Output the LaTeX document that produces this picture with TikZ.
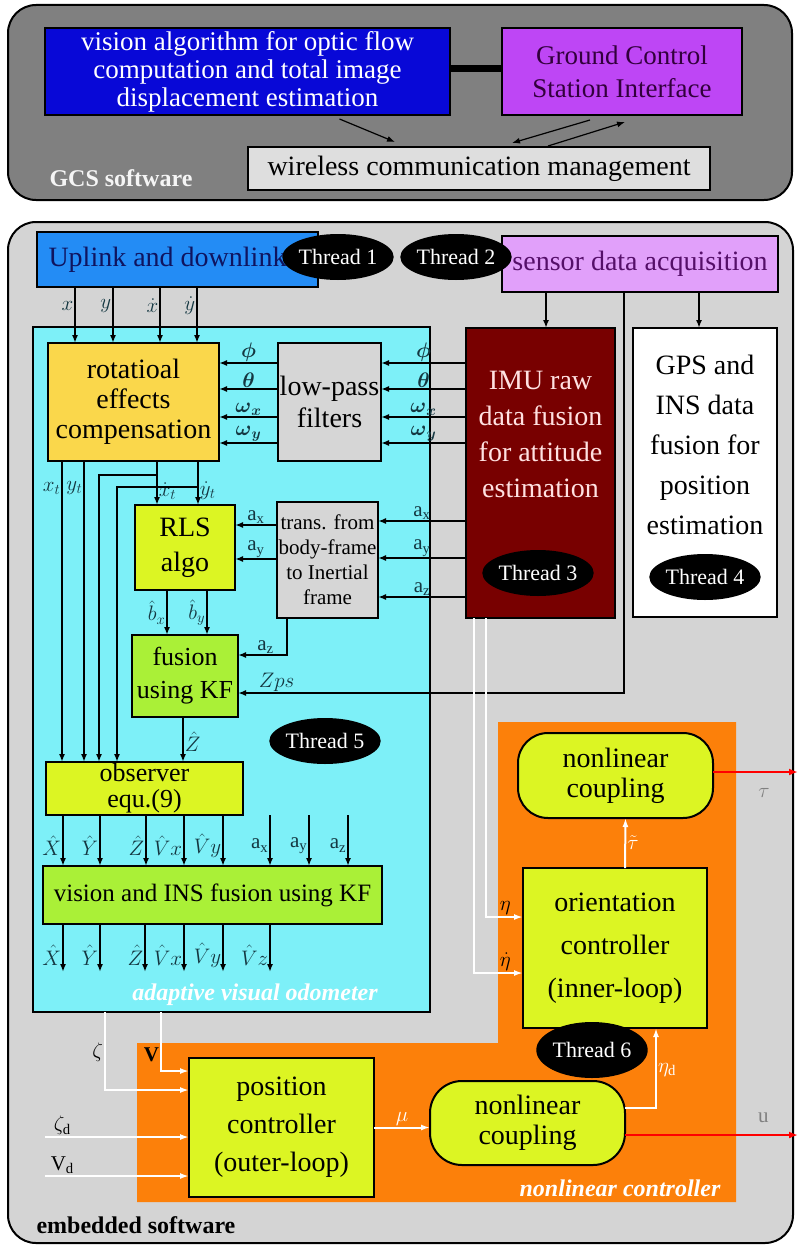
\RequirePackage{fix-cm}
\documentclass[tikz,border=0pt]{standalone}
\usepackage{amsmath}
\usepackage{fontspec}
\setmainfont{Liberation Serif}
\usepackage{xcolor}
\usepackage{tikz}
\usetikzlibrary{arrows.meta,positioning,shapes.geometric,calc}

\definecolor{gcsgray}{RGB}{128,128,128}
\definecolor{visblue}{RGB}{8,8,215}
\definecolor{gcspurple}{RGB}{190,70,245}
\definecolor{gcstext}{RGB}{50,0,60}
\definecolor{wirelessgray}{RGB}{222,222,222}
\definecolor{embgray}{RGB}{212,212,212}
\definecolor{linkblue}{RGB}{35,140,245}
\definecolor{linktext}{RGB}{15,20,95}
\definecolor{sensorviolet}{RGB}{225,160,250}
\definecolor{sensortext}{RGB}{85,15,105}
\definecolor{odocyan}{RGB}{125,240,248}
\definecolor{rotgold}{RGB}{250,215,75}
\definecolor{filtgray}{RGB}{214,214,214}
\definecolor{imured}{RGB}{120,0,0}
\definecolor{imutext}{RGB}{255,225,225}
\definecolor{limey}{RGB}{220,245,35}
\definecolor{limeg}{RGB}{170,240,55}
\definecolor{ctrlorange}{RGB}{252,128,10}
\definecolor{labcol}{RGB}{20,55,65}

\begin{document}
\begin{tikzpicture}[x=1pt, y=-1pt,
    panel/.style={draw, line width=2pt, rounded corners=28pt, inner sep=0pt},
    box/.style={draw, line width=2pt, align=center, inner sep=0pt, outer sep=0pt, font=\fontsize{28}{30}\selectfont},
    wh/.style 2 args={minimum width=#1, minimum height=#2},
    big/.style={align=center, inner sep=0pt, font=\fontsize{28}{36}\selectfont},
    thr/.style={ellipse, fill=black, text=white, inner sep=0pt, minimum width=98pt, minimum height=46pt, font=\fontsize{22}{24}\selectfont},
    arr/.style={-{Latex[length=8pt,width=6pt]}, line width=1.6pt},
    warr/.style={draw=white, line width=2pt, -{Latex[length=9pt,width=6pt]}},
    rarr/.style={draw=red, line width=2pt, -{Latex[length=9pt,width=7pt]}},
    lab/.style={font=\fontsize{21}{23}\selectfont, text=labcol, inner sep=1pt}
  ]
    \useasboundingbox (0,0) rectangle (798,1247);

    % GCS software
    \node[panel, fill=gcsgray, wh={784}{195}] (gcs) at (400,102.5) {};
    \node[box, fill=visblue, text=white, wh={405}{87}, font=\fontsize{27}{28}\selectfont] (vision) at (247.5,71.5) {vision algorithm for optic flow\\computation and total image\\displacement estimation};
    \node[box, fill=gcspurple, text=gcstext, wh={240}{87}, font=\fontsize{27}{33}\selectfont] (gcsi) at (622,71.5) {Ground Control\\Station Interface};
    \node[box, fill=wirelessgray, wh={462}{43}] (wireless) at (479,168.5) {wireless communication management};
    \node[font=\bfseries\fontsize{24}{26}\selectfont, text=white!92!gray, anchor=west] (gcslab) at (46,178) {GCS software};

    % embedded software
    \node[panel, fill=embgray, wh={785}{1021}] (emb) at (400.5,732.5) {};
    \node[box, fill=odocyan, wh={397}{685}] (odo) at (231.5,669.5) {};
    \fill[ctrlorange] (498,722) -- (736,722) -- (736,1202) -- (137,1202) -- (137,1043) -- (498,1043) -- cycle;

    \node[box, fill=linkblue, text=linktext, wh={281}{55}] (uplink) at (177.5,259.5) {Uplink and downlink\hspace{20pt}};
    \node[thr] (th1) at (338,257) {Thread 1};
    \node[box, fill=sensorviolet, text=sensortext, wh={276}{56}] (sensor) at (640,264) {sensor data acquisition};
    \node[thr] (th2) at (456,257) {Thread 2};

    \node[box, fill=rotgold, wh={171}{118}] (rot) at (133.5,402) {rotatioal\\effects\\compensation};
    \node[box, fill=filtgray, wh={103}{118}, font=\fontsize{28}{32}\selectfont] (lpf) at (329.5,402) {low-pass\\filters};
    \node[box, fill=imured, wh={149}{290}] (imu) at (540.5,473) {};
    \node[big, text=imutext, below=43pt of imu.north] (imutxt) {IMU raw\\data fusion\\for attitude\\estimation};
    \node[thr] (th3) at (538,573) {Thread 3};
    \node[box, fill=white, wh={144}{289}] (gps) at (705,472.5) {};
    \node[big, font=\fontsize{28}{40}\selectfont, below=27pt of gps.north] (gpstxt) {GPS and\\INS data\\fusion for\\position\\estimation};
    \node[thr] (th4) at (705,577) {Thread 4};

    \node[box, fill=filtgray, wh={101}{116}, font=\fontsize{21}{25}\selectfont] (trans) at (327.5,560) {trans. from\\body-frame\\to Inertial\\frame};
    \node[box, fill=limey, wh={100}{85}, font=\fontsize{28}{35}\selectfont] (rls) at (185,547.5) {RLS\\algo};
    \node[box, fill=limeg, wh={106}{82}, font=\fontsize{26}{33}\selectfont] (fus) at (185,676) {fusion\\using KF};
    \node[thr] (th5) at (325,741) {Thread 5};
    \node[box, fill=limey, wh={197}{53}, font=\fontsize{26}{26}\selectfont] (obs) at (144.5,788.5) {observer\\equ.(9)};
    \node[box, fill=limeg, wh={339}{58}, font=\fontsize{25}{28}\selectfont] (vins) at (212.5,895) {vision and INS fusion using KF};
    \node[font=\bfseries\itshape\fontsize{24}{26}\selectfont, text=white] (odolab) at (255,995) {adaptive visual odometer};

    % nonlinear controller
    \node[box, fill=limey, rounded corners=30pt, wh={195}{85}] (ucpl) at (615.5,775.5) {nonlinear\\coupling};
    \node[box, fill=limey, wh={184}{160}, font=\fontsize{28}{43}\selectfont] (orient) at (615,948) {orientation\\controller\\(inner-loop)};
    \node[box, fill=limey, wh={185}{139}, font=\fontsize{28}{38}\selectfont] (pos) at (281.5,1127.5) {position\\controller\\(outer-loop)};
    \node[box, fill=limey, rounded corners=32pt, wh={195}{84}] (lcpl) at (527.5,1123) {nonlinear\\coupling};
    \node[thr, minimum width=104pt, minimum height=56pt] (th6) at (592,1050) {Thread 6};
    \node[font=\bfseries\itshape\fontsize{24}{26}\selectfont, text=white] (ctrllab) at (620,1188) {nonlinear controller};
    \node[font=\bfseries\fontsize{24}{26}\selectfont, anchor=west] (emblab) at (33,1225) {embedded software};

    % GCS links
    \draw[line width=7pt] ([yshift=3pt]vision.east) -- ([yshift=3pt]gcsi.west);
    \draw[arr, line width=1.2pt] ([xshift=92pt,yshift=-4pt]vision.south) -- ([xshift=-84pt,yshift=5pt]wireless.north);
    \draw[arr, line width=1.2pt] ([xshift=-32pt,yshift=-5pt]gcsi.south) -- ([xshift=33pt,yshift=4pt]wireless.north);
    \draw[arr, line width=1.2pt] ([xshift=69pt,yshift=1pt]wireless.north) -- ([xshift=3pt,yshift=-7pt]gcsi.south);

    % uplink to rotational compensation
    \foreach \dx/\sym in {-102.5/x, -64.5/y, -17.5/\dot{x}, 19.5/\dot{y}}
      \draw[arr] ([xshift=\dx pt]uplink.south) coordinate (a) -- (a |- rot.north) node[lab, left, pos=0.34] {$\sym$};

    % filters
    \foreach \dy/\sym in {39/\boldsymbol{\phi}, 13/\boldsymbol{\theta}, -15/\boldsymbol{\omega}_{\boldsymbol{x}}, -41/\boldsymbol{\omega}_{\boldsymbol{y}}} {
      \draw[arr] ([yshift=\dy pt]lpf.west) coordinate (a) -- (a -| rot.east) node[lab, midway, above] {$\sym$};
      \path ([yshift=\dy pt]lpf.east) coordinate (b);
      \draw[arr] (b -| imu.west) -- (b) node[lab, midway, above] {$\sym$};
    }

    % compensated flow
    \draw[arr] ([xshift=-71.5pt]rot.south) coordinate (a) -- (a |- obs.north) node[lab, left, pos=0.09] {$x_t$};
    \draw[arr] ([xshift=-49.5pt]rot.south) coordinate (a) -- (a |- obs.north) node[lab, left, pos=0.09] {$y_t$};
    \draw[arr] ([xshift=23.5pt]rot.south) coordinate (xt) -- (xt |- rls.north) node[lab, right, pos=0.68] {$\dot{x}_t$};
    \draw[arr] ([xshift=64.5pt]rot.south) coordinate (yt) -- (yt |- rls.north) node[lab, right, pos=0.68] {$\dot{y}_t$};
    \draw[arr] ([yshift=-14pt]xt) -| ([xshift=-45.5pt]obs.north);
    \draw[arr] ([yshift=-26pt]yt) -| ([xshift=-27.5pt]obs.north);

    % accelerations
    \foreach \dy/\sym in {39/a_x, 2/a_y, -37/a_z} {
      \path ([yshift=\dy pt]trans.east) coordinate (b);
      \draw[arr] (b -| imu.west) -- (b) node[lab, midway, above] {$\mathrm{\sym}$};
    }
    \foreach \dy/\sym in {35/a_x, 1/a_y}
      \draw[arr] ([yshift=\dy pt]trans.west) coordinate (a) -- (a -| rls.east) node[lab, midway, above] {$\mathrm{\sym}$};
    \draw[arr] ([xshift=-40.5pt]trans.south) |- ([yshift=21pt]fus.east) node[lab, pos=0.72, above] {$\mathrm{a_z}$};

    % sensor data
    \draw[arr] ([xshift=-94pt]sensor.south) coordinate (a) -- (a |- imu.north);
    \draw[arr] ([xshift=59pt]sensor.south) coordinate (a) -- (a |- gps.north);
    \draw[arr] ([xshift=-16pt]sensor.south) |- ([yshift=-17pt]fus.east) node[lab, pos=0.95, above] {$Zps$};

    % RLS, fusion, observer
    \draw[arr] ([xshift=-18pt]rls.south) coordinate (a) -- (a |- fus.north) node[lab, left, midway] {$\hat{b}_x$};
    \draw[arr] ([xshift=22pt]rls.south) coordinate (a) -- (a |- fus.north) node[lab, left, midway] {$\hat{b}_y$};
    \draw[arr] ([xshift=-2pt]fus.south) coordinate (a) -- (a |- obs.north) node[lab, right, pos=0.55] {$\hat{Z}$};
    \foreach \dx/\sym in {-81.5/\hat{X}, -44.5/\hat{Y}, 1.5/\hat{Z}, 39.5/\hat{V}x, 78.5/\hat{V}y}
      \draw[arr] ([xshift=\dx pt]obs.south) coordinate (a) -- (a |- vins.north) node[lab, left, pos=0.6] {$\sym$};
    \foreach \dx/\sym in {57.5/a_x, 96.5/a_y, 135.5/a_z}
      \draw[arr] ([xshift=\dx pt, yshift=51pt]vins.north) -- ([xshift=\dx pt]vins.north) node[lab, left, pos=0.6] {$\mathrm{\sym}$};
    \foreach \dx/\sym in {-149.5/\hat{X}, -112.5/\hat{Y}, -67.5/\hat{Z}, -28.5/\hat{V}x, 10.5/\hat{V}y, 57.5/\hat{V}z}
      \draw[arr] ([xshift=\dx pt]vins.south) -- ([xshift=\dx pt, yshift=-48pt]vins.south) node[lab, left, pos=0.65] {$\sym$};

    % controller signals
    \draw[warr] ([xshift=-126.5pt]odo.south) |- ([yshift=37.5pt]pos.west) node[lab, text=black, pos=0.26, left] {$\zeta$};
    \draw[warr] ([xshift=-70.5pt]odo.south) |- ([yshift=56.5pt]pos.west) node[lab, text=black, pos=0.36, left] {\bfseries V};
    \draw[warr] ([xshift=-144pt,yshift=-9.5pt]pos.west) -- ([yshift=-9.5pt]pos.west) node[lab, text=black, pos=0.12, above] {$\zeta_\mathrm{d}$};
    \draw[warr] ([xshift=-144pt,yshift=-48.5pt]pos.west) -- ([yshift=-48.5pt]pos.west) node[lab, text=black, pos=0.12, above] {V\textsubscript{d}};
    \draw[warr] (pos.east) -- (pos.east -| lcpl.west) node[lab, text=white, midway, above] {$\mu$};
    \draw[warr] ([yshift=15pt]lcpl.east) -| ([xshift=41pt]orient.south) node[lab, text=white, pos=0.74, right] {$\eta_\mathrm{d}$};
    \draw[warr] ([xshift=10pt]orient.north) -- ([xshift=10pt]ucpl.south) node[lab, text=white, midway, right] {$\tilde{\tau}$};
    \draw[warr] ([xshift=-54.5pt]imu.south) |- ([yshift=31pt]orient.west) node[lab, text=black, pos=0.76, above] {$\eta$};
    \draw[warr] ([xshift=-66.5pt]imu.south) |- ([yshift=-25pt]orient.west) node[lab, text=black, pos=0.82, above] {$\dot{\eta}$};

    \coordinate (tauend) at (798,772);
    \coordinate (uend) at (798,1135);
    \draw[rarr] (ucpl.east |- tauend) -- (tauend) node[lab, text=gray, pos=0.6, below=14pt] {$\tau$};
    \draw[rarr] (lcpl.east |- uend) -- (uend) node[lab, text=gray, pos=0.8, above=10pt] {u};
\end{tikzpicture}
\end{document}
